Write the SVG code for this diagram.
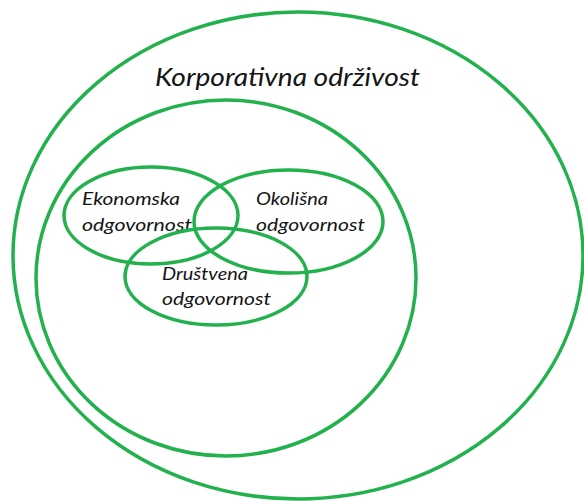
<svg xmlns="http://www.w3.org/2000/svg" width="584" height="501" viewBox="0 0 584 501">
<style>
.e{fill:none;stroke:#22b14c;stroke-width:3.5}
.t{font-family:Lato,"Open Sans","Liberation Sans",sans-serif;font-style:italic;fill:#141414}
.s{font-size:17px}
.b{font-size:25px}
</style>
<rect width="584" height="501" fill="#fff"/>
<g id="korporativna">
<ellipse class="e" cx="298" cy="255.5" rx="285" ry="243.5"/>
<text class="t b" x="155" y="86" textLength="265" lengthAdjust="spacingAndGlyphs">Korporativna održivost</text>
</g>
<g id="inner">
<ellipse class="e" cx="226" cy="278" rx="190" ry="178"/>
</g>
<g id="ekonomska">
<ellipse class="e" cx="151" cy="215.5" rx="87" ry="48.5"/>
<text class="t s" x="82" y="205" textLength="98" lengthAdjust="spacingAndGlyphs">Ekonomska</text>
<text class="t s" x="82" y="231" textLength="110" lengthAdjust="spacingAndGlyphs">odgovornost</text>
</g>
<g id="okolisna">
<ellipse class="e" cx="288.5" cy="221.5" rx="94.5" ry="51.5"/>
<text class="t s" x="256" y="205" textLength="72" lengthAdjust="spacingAndGlyphs">Okolišna</text>
<text class="t s" x="256" y="231" textLength="109" lengthAdjust="spacingAndGlyphs">odgovornost</text>
</g>
<g id="drustvena">
<ellipse class="e" cx="216" cy="276.5" rx="91" ry="48.5"/>
<text class="t s" x="162" y="280" textLength="86" lengthAdjust="spacingAndGlyphs">Društvena</text>
<text class="t s" x="162" y="305" textLength="109" lengthAdjust="spacingAndGlyphs">odgovornost</text>
</g>
<g id="connectors"></g>
</svg>
